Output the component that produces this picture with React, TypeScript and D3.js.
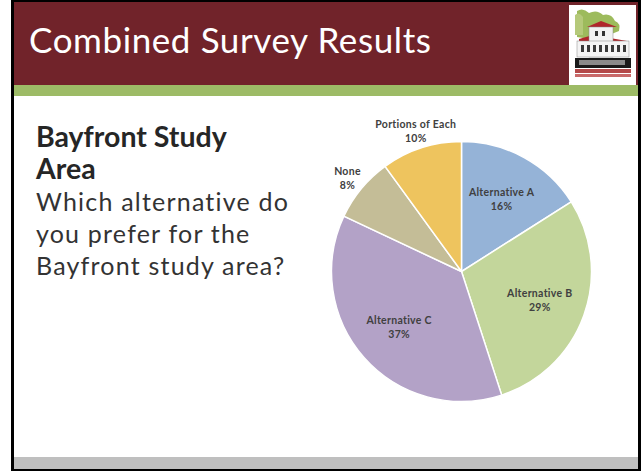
import React from "react";
import * as d3 from "d3";

const categories = ["Alternative A", "Alternative B", "Alternative C", "None", "Portions of Each"];
const values = [16, 29, 37, 8, 10];
const colors = ["#95B3D7", "#C3D69B", "#B3A2C7", "#C4BD97", "#EEC45E"];
const title = "Combined Survey Results";
const headingLines = ["Bayfront Study", "Area"];
const bodyLines = ["Which alternative do", "you prefer for the", "Bayfront study area?"];

const W = 642;
const H = 471;
const cx = 461.5;
const cy = 271.5;
const R = 130;

function Logo({ x, y }: { x: number; y: number }) {
  return (
    <g transform={`translate(${x},${y})`}>
      <rect x={0} y={0} width={67} height={80} fill="#ffffff" />
      {/* trees */}
      <path d="M8,6 Q14,2 20,8 Q28,4 34,10 Q42,8 46,16 Q52,18 50,26 L40,30 L20,34 L8,32 Z" fill="#9DBB5C" />
      <path d="M6,10 Q10,6 14,12 L14,30 L6,30 Z" fill="#B5C97A" />
      {/* roofs */}
      <path d="M18,22 L32,16 L48,22 Z" fill="#B0262B" />
      <path d="M10,34 L24,30 L58,36 L10,36 Z" fill="#B0262B" />
      {/* building */}
      <rect x={20} y={22} width={24} height={30} fill="#F2F2F2" stroke="#888" strokeWidth={0.5} />
      <rect x={8} y={36} width={52} height={16} fill="#F4F4F4" stroke="#888" strokeWidth={0.5} />
      <rect x={26} y={26} width={3} height={5} fill="#333" />
      <rect x={33} y={26} width={3} height={5} fill="#333" />
      {[12, 18, 24, 30, 36, 42, 48, 54].map((px) => (
        <rect key={px} x={px} y={40} width={3} height={7} fill="#3a3a3a" />
      ))}
      {/* text band */}
      <rect x={6} y={53} width={56} height={10} fill="#1a1a1a" />
      <rect x={10} y={55} width={46} height={5} fill="#8a8a8a" />
      <rect x={6} y={64} width={56} height={4} fill="#B44A4A" />
      <rect x={6} y={69} width={56} height={3} fill="#C96A6A" />
    </g>
  );
}

export default function App() {
  const total = d3.sum(values);
  const pie = d3
    .pie<number>()
    .sort(null)
    .value((d) => d)(values);
  const arc = d3.arc<d3.PieArcDatum<number>>().innerRadius(0).outerRadius(R);
  const inLabel = d3.arc<d3.PieArcDatum<number>>().innerRadius(R * 0.64).outerRadius(R * 0.64);
  const outLabel = d3.arc<d3.PieArcDatum<number>>().innerRadius(R + 18).outerRadius(R + 18);

  return (
    <svg
      width={W}
      height={H}
      style={{ position: "absolute", left: 0, top: 0 }}
      fontFamily="Lato, 'Open Sans', sans-serif"
    >
      <rect x={0} y={0} width={W} height={H} fill="#ffffff" />
      {/* slide frame */}
      <rect x={11} y={0} width={630} height={471} fill="#000000" />
      <rect x={14} y={2} width={624} height={467} fill="#ffffff" />
      {/* header */}
      <rect x={14} y={2} width={624} height={83} fill="#71232A" />
      <rect x={14} y={85} width={624} height={11} fill="#9DBB66" />
      {/* footer */}
      <rect x={14} y={457} width={624} height={12} fill="#BFBFBF" />
      <text x={29} y={53} fill="#ffffff" fontSize={35} letterSpacing={0.6}>
        {title}
      </text>
      <Logo x={569} y={5} />

      {/* left text */}
      {headingLines.map((t, i) => (
        <text key={t} x={36} y={147 + i * 32} fontSize={28.5} fontWeight={700} fill="#262626">
          {t}
        </text>
      ))}
      {bodyLines.map((t, i) => (
        <text key={t} x={36} y={211 + i * 32} fontSize={25} letterSpacing={1.2} fill="#333333">
          {t}
        </text>
      ))}

      {/* pie */}
      <g transform={`translate(${cx},${cy})`}>
        {pie.map((d, i) => (
          <path key={categories[i]} d={arc(d) || ""} fill={colors[i]} stroke="#ffffff" strokeWidth={1.5} />
        ))}
        {pie.map((d, i) => {
          const outside = d.data / total < 0.12;
          const [lx, ly] = outside ? outLabel.centroid(d) : inLabel.centroid(d);
          return (
            <text
              key={"l" + i}
              x={lx}
              y={ly}
              textAnchor="middle"
              fontSize={10.5}
              fontWeight={700}
              letterSpacing={0.3}
              fill="#404040"
            >
              <tspan x={lx} dy="-0.25em">
                {categories[i]}
              </tspan>
              <tspan x={lx} dy="1.35em">
                {Math.round((d.data / total) * 100) + "%"}
              </tspan>
            </text>
          );
        })}
      </g>
    </svg>
  );
}
